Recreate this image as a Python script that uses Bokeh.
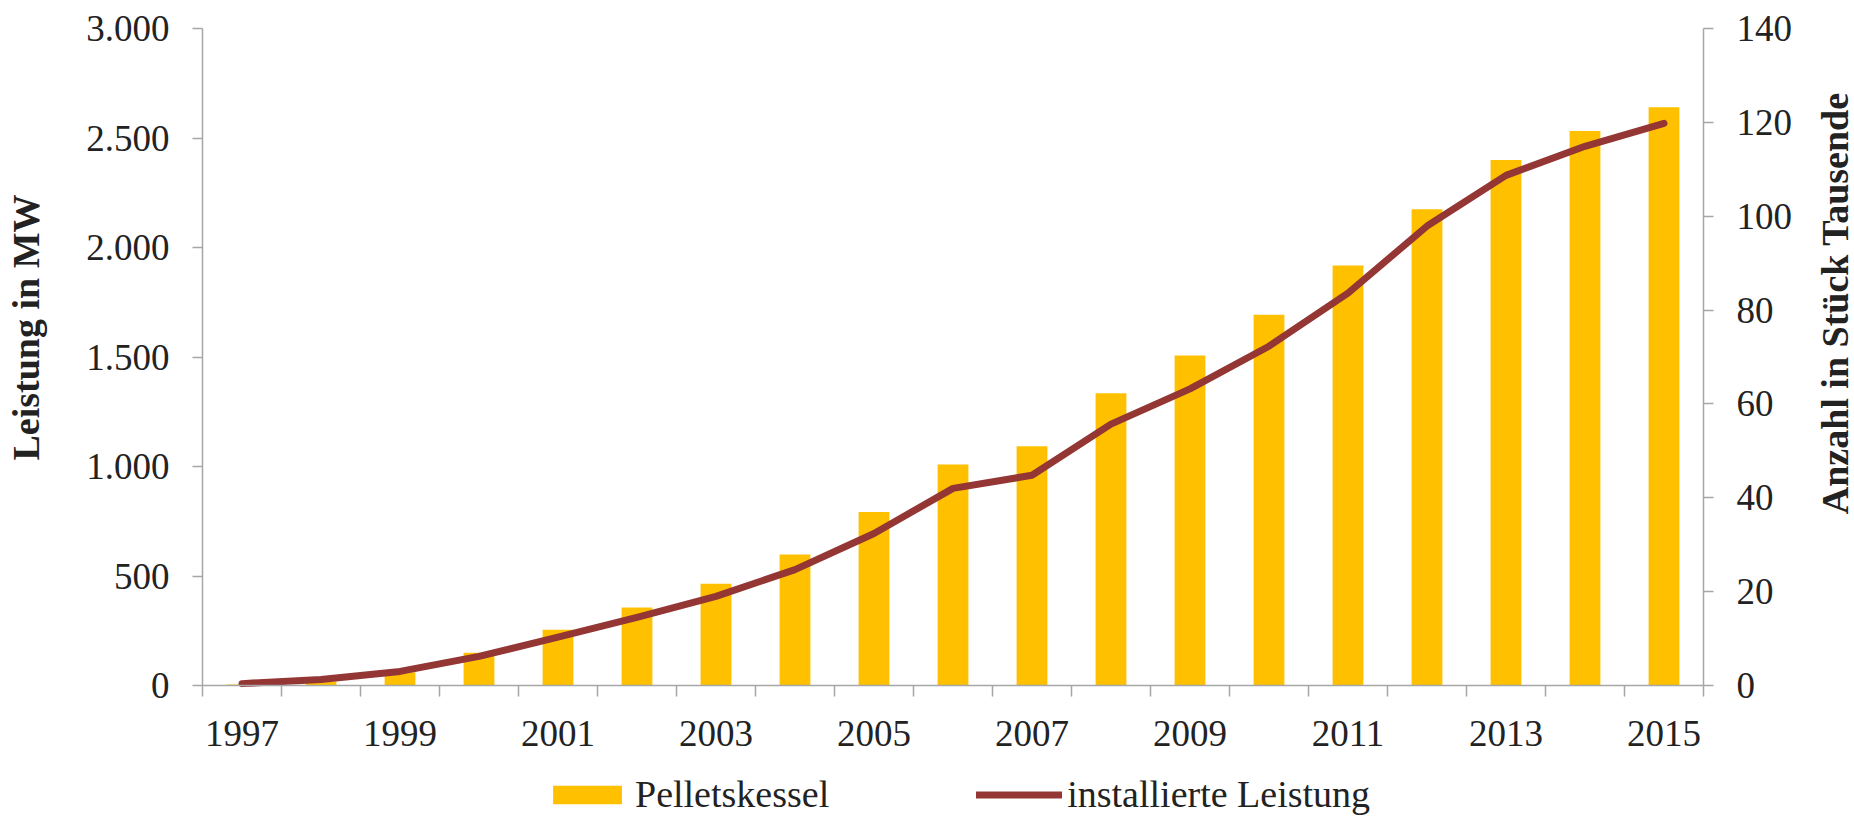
import math
from bokeh.plotting import figure
from bokeh.models import (Range1d, LinearAxis, FixedTicker, Legend, LegendItem,
                          Label, ColumnDataSource)
from bokeh.embed import file_html
from bokeh.resources import INLINE

# ---------------- data ----------------
years = list(range(1997, 2016))
pelletskessel_mw = [5, 18, 60, 150, 255, 356, 465, 598, 792, 1009, 1093, 1335,
                    1507, 1693, 1918, 2175, 2400, 2532, 2640]
installierte_leistung_tsd = [0.4, 1.3, 3.0, 6.2, 10.3, 14.5, 19.0, 24.7, 32.4, 42.0,
                             44.8, 55.7, 63.2, 72.3, 83.6, 97.9, 108.7, 114.9, 119.8]
left_ticks = [0, 500, 1000, 1500, 2000, 2500, 3000]
right_ticks = [0, 20, 40, 60, 80, 100, 120, 140]
year_labels = [1997, 1999, 2001, 2003, 2005, 2007, 2009, 2011, 2013, 2015]

left_title = "Leistung in MW"
right_title = "Anzahl in Stück  Tausende"
legend_labels = ["Pelletskessel", "installierte Leistung"]

# ---------------- layout (pixels) ----------------
W, H = 1854, 816
FL, FR, FT, FB = 202, 1703, 28, 685       # plot area edges on the canvas
LMAX, RMAX = left_ticks[-1], right_ticks[-1]
x0, x1 = years[0] - 0.5, years[-1] + 0.5
ppx = (FR - FL) / (x1 - x0)
ppy = (FB - FT) / LMAX
xr = Range1d(x0 - FL / ppx, x1 + (W - FR) / ppx)
yr = Range1d(-(H - FB) / ppy, LMAX + FT / ppy)
k = RMAX / LMAX
yr_right = Range1d(yr.start * k, yr.end * k)

# ---------------- style ----------------
FONT = "Liberation Serif"
TXT = "#222222"
AXIS = "#a6a6a6"
BAR = "#FFC000"
LINE = "#943634"

p = figure(width=W, height=H, output_backend="svg", toolbar_location=None,
           x_range=xr, y_range=yr, min_border=0, min_border_left=0,
           min_border_right=0, min_border_top=0, min_border_bottom=0,
           outline_line_color=None, background_fill_color="white",
           border_fill_color="white")
p.xgrid.visible = False
p.ygrid.visible = False
p.extra_y_ranges = {"right": yr_right}

src = ColumnDataSource(dict(year=years, mw=pelletskessel_mw, tsd=installierte_leistung_tsd))

bars = p.vbar(x="year", top="mw", width=0.39, source=src, fill_color=BAR, line_color=None)
line = p.line(x="year", y="tsd", source=src, y_range_name="right", line_color=LINE,
              line_width=7, line_cap="round", line_join="round")

# x axis
xa = p.xaxis[0]
xa.fixed_location = 0
xa.bounds = (x0, x1)
xa.ticker = FixedTicker(ticks=year_labels, minor_ticks=[y - 0.5 for y in years] + [x1])
xa.major_label_overrides = {y: str(y) for y in year_labels}
xa.major_tick_in = 0
xa.major_tick_out = 0
xa.minor_tick_in = 0
xa.minor_tick_out = 11
xa.major_label_standoff = 24

# left axis
ya = p.yaxis[0]
ya.fixed_location = x0
ya.bounds = (0, LMAX)
ya.ticker = FixedTicker(ticks=left_ticks, minor_ticks=[])
ya.major_label_overrides = {t: f"{t:,}".replace(",", ".") for t in left_ticks}
ya.major_tick_in = 0
ya.major_tick_out = 10
ya.major_label_standoff = 23

# right axis
ra = LinearAxis(y_range_name="right", fixed_location=x1, bounds=(0, RMAX),
                ticker=FixedTicker(ticks=right_ticks, minor_ticks=[]))
ra.major_tick_in = 0
ra.major_tick_out = 10
ra.major_label_standoff = 23
p.add_layout(ra, "right")

for ax in (xa, ya, ra):
    ax.axis_line_color = AXIS
    ax.axis_line_width = 1.5
    ax.major_tick_line_color = AXIS
    ax.major_tick_line_width = 1.5
    ax.minor_tick_line_color = AXIS
    ax.minor_tick_line_width = 1.5
    ax.major_label_text_font = FONT
    ax.major_label_text_font_size = "37px"
    ax.major_label_text_color = TXT

# axis titles (read bottom to top)
for txt, cx, cy in ((left_title, 25, 327), (right_title, 1834, 298)):
    p.add_layout(Label(x=cx, y=H - cy, x_units="screen", y_units="screen", text=txt,
                       angle=math.pi / 2, text_align="center", text_baseline="middle",
                       text_font=FONT, text_font_style="bold", text_font_size="38px",
                       text_color=TXT))

legend = Legend(items=[LegendItem(label=legend_labels[0], renderers=[bars]),
                       LegendItem(label=legend_labels[1], renderers=[line])],
                location=(544, 0), orientation="horizontal", spacing=147,
                glyph_width=86, glyph_height=23, label_standoff=5, padding=0, margin=0,
                background_fill_alpha=0, border_line_color=None,
                label_text_font=FONT, label_text_font_size="38px", label_text_color=TXT)
p.add_layout(legend)

open("out.html", "w").write(file_html(p, INLINE))
